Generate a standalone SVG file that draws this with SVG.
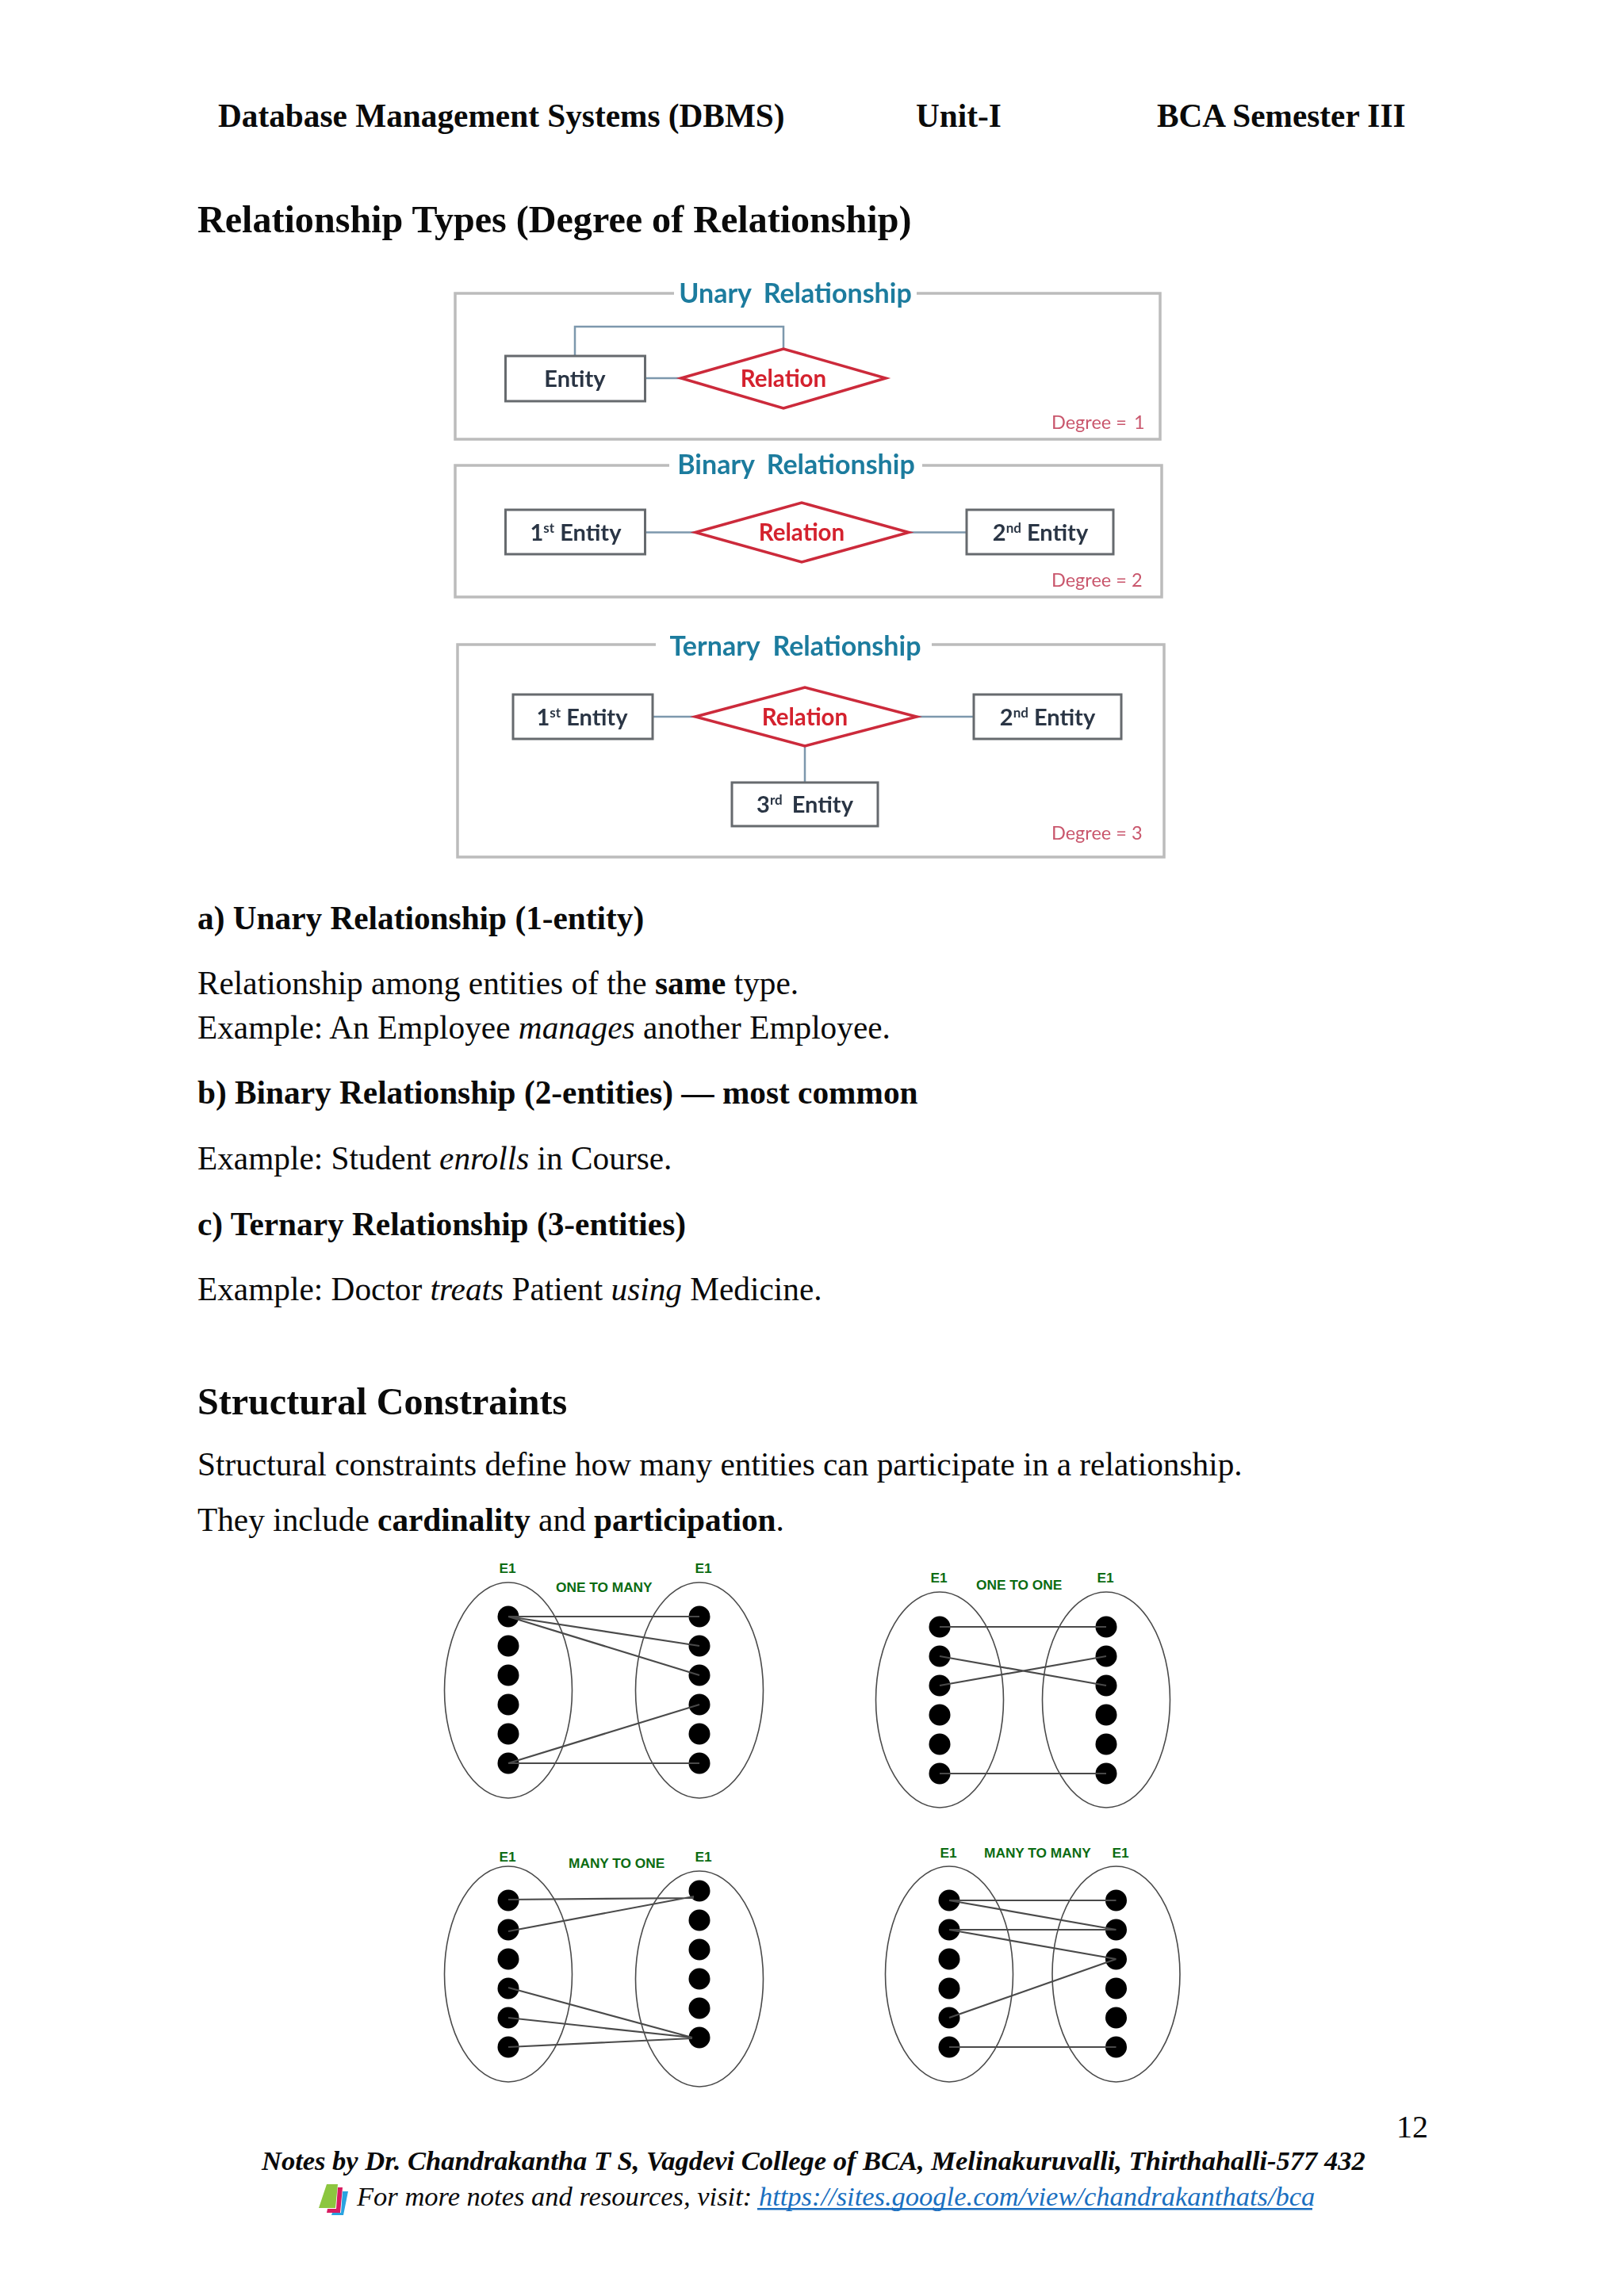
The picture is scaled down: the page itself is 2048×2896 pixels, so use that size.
<svg xmlns="http://www.w3.org/2000/svg" width="2048" height="2896" viewBox="0 0 2048 2896">
<defs>
<style>
.s{font-family:"Liberation Serif","Times New Roman",serif;fill:#0a0a0a}
.b{font-weight:700}
.body{font-size:41.3px}
.h1{font-size:48.1px;font-weight:700}
.hd{font-size:41.3px;font-weight:700}
.it{font-style:italic}
.ft{font-size:34.5px;font-style:italic}
.frame{fill:none;stroke:#bcbcbc;stroke-width:3.5}
.ent{fill:#fff;stroke:#666a6e;stroke-width:3}
.dia{fill:#fff;stroke:#cc2b3b;stroke-width:3.5}
.con{fill:none;stroke:#7d98ad;stroke-width:2.5}
.er{font-family:Lato,"Liberation Sans",sans-serif;font-weight:700}
.title{font-size:34px;fill:#1d7b9e;text-anchor:middle}
.ename{font-size:29px;fill:#2b3644;text-anchor:middle}
.rel{font-size:29.5px;fill:#d4202e;text-anchor:middle}
.deg{font-size:23.5px;fill:#c9566c;font-weight:400}
.ell{fill:none;stroke:#4a4a4a;stroke-width:1.6}
.dot{fill:#000}
.ln{stroke:#4a4a4a;stroke-width:2.2;fill:none}
.g{font-family:"Liberation Sans",Arial,sans-serif;font-weight:700;fill:#0b6b12;font-size:17.3px}
.m{text-anchor:middle}
</style>
<filter id="soft" x="-2%" y="-2%" width="104%" height="104%"><feGaussianBlur stdDeviation="0.6"/></filter>
</defs>
<rect width="2048" height="2896" fill="#fff"/>

<g id="page-text">
<text class="s hd" x="275" y="160">Database Management Systems (DBMS)</text>
<text class="s hd" x="1155" y="160">Unit-I</text>
<text class="s hd" x="1459" y="160">BCA Semester III</text>
<text class="s h1" x="249" y="293">Relationship Types (Degree of Relationship)</text>
<text class="s hd" x="249" y="1172">a) Unary Relationship (1-entity)</text>
<text class="s body" x="249" y="1254">Relationship among entities of the <tspan class="b">same</tspan> type.</text>
<text class="s body" x="249" y="1310">Example: An Employee <tspan class="it">manages</tspan> another Employee.</text>
<text class="s hd" x="249" y="1392">b) Binary Relationship (2-entities) — most common</text>
<text class="s body" x="249" y="1475">Example: Student <tspan class="it">enrolls</tspan> in Course.</text>
<text class="s hd" x="249" y="1558">c) Ternary Relationship (3-entities)</text>
<text class="s body" x="249" y="1640">Example: Doctor <tspan class="it">treats</tspan> Patient <tspan class="it">using</tspan> Medicine.</text>
<text class="s h1" x="249" y="1784">Structural Constraints</text>
<text class="s body" x="249" y="1861">Structural constraints define how many entities can participate in a relationship.</text>
<text class="s body" x="249" y="1931">They include <tspan class="b">cardinality</tspan> and <tspan class="b">participation</tspan>.</text>
<text class="s" x="1761" y="2696" font-size="40">12</text>
<text class="s ft b" x="330" y="2737">Notes by Dr. Chandrakantha T S, Vagdevi College of BCA, Melinakuruvalli, Thirthahalli-577 432</text>
<text class="s ft" x="450" y="2782">For more notes and resources, visit: <tspan fill="#1a6fc0">https://sites.google.com/view/chandrakanthats/bca</tspan></text>
<rect x="955" y="2785" width="700" height="2.5" fill="#1a6fc0"/>
</g>
<g id="book-icon">
<path d="M412 2755h14l-3 30h-21z" fill="#8cc63f"/>
<path d="M426 2759h6l-3 32h-17l1-5h11z" fill="#d81b60"/>
<path d="M432 2764h7l-6 30h-15l1-3h11z" fill="#29a3e0"/>
</g>

<g id="er-figures" filter="url(#soft)">
<g id="connectors-er">
<path class="con" d="M725 449V412H988V440"/>
<path class="con" d="M813 477H859"/>
<path class="con" d="M813 671.5H877M1146 671.5H1219"/>
<path class="con" d="M822 904H877M1156 904H1228M1015 941V987"/>
</g>
<g id="unary">
<path class="frame" d="M850 370H574V554H1463V370H1156"/>
<text class="er title" x="1003" y="382">Unary<tspan dx="15">Relationship</tspan></text>
<g id="unary-entity"><rect class="ent" x="637.5" y="449" width="176" height="57"/><text class="er ename" x="725" y="488">Entity</text></g>
<g id="unary-relation"><polygon class="dia" points="859,477 988,440 1117,477 988,515"/><text class="er rel" x="988" y="488">Relation</text></g>
<text class="er deg" x="1326" y="541">Degree =<tspan dx="9">1</tspan></text>
</g>
<g id="binary">
<path class="frame" d="M844 587H574V753H1465V587H1163"/>
<text class="er title" x="1004" y="598">Binary<tspan dx="15">Relationship</tspan></text>
<g id="binary-e1"><rect class="ent" x="637.5" y="643" width="176" height="56"/><text class="er ename" x="726" y="682">1<tspan font-size="17" dy="-10">st</tspan><tspan dy="10"> Entity</tspan></text></g>
<g id="binary-relation"><polygon class="dia" points="877,671.5 1011,634 1146,671.5 1011,709"/><text class="er rel" x="1011" y="682">Relation</text></g>
<g id="binary-e2"><rect class="ent" x="1219" y="643" width="185" height="56"/><text class="er ename" x="1312" y="682">2<tspan font-size="17" dy="-10">nd</tspan><tspan dy="10"> Entity</tspan></text></g>
<text class="er deg" x="1326" y="740">Degree = 2</text>
</g>
<g id="ternary">
<path class="frame" d="M827 813H577V1081H1468V813H1175"/>
<text class="er title" x="1003" y="827">Ternary<tspan dx="16">Relationship</tspan></text>
<g id="ternary-e1"><rect class="ent" x="647" y="876" width="176" height="56"/><text class="er ename" x="734" y="915">1<tspan font-size="17" dy="-10">st</tspan><tspan dy="10"> Entity</tspan></text></g>
<g id="ternary-relation"><polygon class="dia" points="877,904 1015,867 1156,904 1015,941"/><text class="er rel" x="1015" y="915">Relation</text></g>
<g id="ternary-e2"><rect class="ent" x="1228" y="876" width="186" height="56"/><text class="er ename" x="1321" y="915">2<tspan font-size="17" dy="-10">nd</tspan><tspan dy="10"> Entity</tspan></text></g>
<g id="ternary-e3"><rect class="ent" x="923" y="987" width="184" height="55"/><text class="er ename" x="1015" y="1025">3<tspan font-size="17" dy="-10">rd</tspan><tspan dx="5" dy="10"> Entity</tspan></text></g>
<text class="er deg" x="1326" y="1059">Degree = 3</text>
</g>
</g>

<g id="one-to-many">
<ellipse class="ell" cx="641" cy="2132" rx="80.5" ry="136"/><ellipse class="ell" cx="882" cy="2132" rx="80.5" ry="136"/>
<g class="dot"><circle cx="641" cy="2039" r="13.5"/><circle cx="641" cy="2076" r="13.5"/><circle cx="641" cy="2113" r="13.5"/><circle cx="641" cy="2150" r="13.5"/><circle cx="641" cy="2187" r="13.5"/><circle cx="641" cy="2224" r="13.5"/>
<circle cx="882" cy="2039" r="13.5"/><circle cx="882" cy="2076" r="13.5"/><circle cx="882" cy="2113" r="13.5"/><circle cx="882" cy="2150" r="13.5"/><circle cx="882" cy="2187" r="13.5"/><circle cx="882" cy="2224" r="13.5"/></g>
<text class="g m" x="640" y="1984">E1</text><text class="g m" x="887" y="1984">E1</text><text class="g" x="701" y="2008">ONE TO MANY</text>
</g>
<g id="one-to-one">
<ellipse class="ell" cx="1185" cy="2144" rx="80.5" ry="136"/><ellipse class="ell" cx="1395" cy="2144" rx="80.5" ry="136"/>
<g class="dot"><circle cx="1185" cy="2052" r="13.5"/><circle cx="1185" cy="2089" r="13.5"/><circle cx="1185" cy="2126" r="13.5"/><circle cx="1185" cy="2163" r="13.5"/><circle cx="1185" cy="2200" r="13.5"/><circle cx="1185" cy="2237" r="13.5"/>
<circle cx="1395" cy="2052" r="13.5"/><circle cx="1395" cy="2089" r="13.5"/><circle cx="1395" cy="2126" r="13.5"/><circle cx="1395" cy="2163" r="13.5"/><circle cx="1395" cy="2200" r="13.5"/><circle cx="1395" cy="2237" r="13.5"/></g>
<text class="g m" x="1184" y="1996">E1</text><text class="g m" x="1394" y="1996">E1</text><text class="g" x="1231" y="2005">ONE TO ONE</text>
</g>
<g id="many-to-one">
<ellipse class="ell" cx="641" cy="2490" rx="80.5" ry="136"/><ellipse class="ell" cx="882" cy="2496" rx="80.5" ry="136"/>
<g class="dot"><circle cx="641" cy="2397" r="13.5"/><circle cx="641" cy="2434" r="13.5"/><circle cx="641" cy="2471" r="13.5"/><circle cx="641" cy="2508" r="13.5"/><circle cx="641" cy="2545" r="13.5"/><circle cx="641" cy="2582" r="13.5"/>
<circle cx="882" cy="2385" r="13.5"/><circle cx="882" cy="2422" r="13.5"/><circle cx="882" cy="2459" r="13.5"/><circle cx="882" cy="2496" r="13.5"/><circle cx="882" cy="2533" r="13.5"/><circle cx="882" cy="2570" r="13.5"/></g>
<text class="g m" x="640" y="2348">E1</text><text class="g m" x="887" y="2348">E1</text><text class="g" x="717" y="2356">MANY TO ONE</text>
</g>
<g id="many-to-many">
<ellipse class="ell" cx="1197" cy="2490" rx="80.5" ry="136"/><ellipse class="ell" cx="1407.5" cy="2490" rx="80.5" ry="136"/>
<g class="dot"><circle cx="1197" cy="2397" r="13.5"/><circle cx="1197" cy="2434" r="13.5"/><circle cx="1197" cy="2471" r="13.5"/><circle cx="1197" cy="2508" r="13.5"/><circle cx="1197" cy="2545" r="13.5"/><circle cx="1197" cy="2582" r="13.5"/>
<circle cx="1407.5" cy="2397" r="13.5"/><circle cx="1407.5" cy="2434" r="13.5"/><circle cx="1407.5" cy="2471" r="13.5"/><circle cx="1407.5" cy="2508" r="13.5"/><circle cx="1407.5" cy="2545" r="13.5"/><circle cx="1407.5" cy="2582" r="13.5"/></g>
<text class="g m" x="1196" y="2343">E1</text><text class="g m" x="1413" y="2343">E1</text><text class="g" x="1241" y="2343">MANY TO MANY</text>
</g>
<g id="connectors-cardinality">
<path class="ln" d="M641 2039H882M641 2039L882 2076M641 2039L882 2113M641 2224L882 2150M641 2224H882"/>
<path class="ln" d="M1185 2052H1395M1185 2089L1395 2126M1185 2126L1395 2089M1185 2237H1395"/>
<path class="ln" d="M641 2396L875 2394M641 2436L875 2392M641 2507L873 2570M641 2545L873 2570M641 2582L873 2571"/>
<path class="ln" d="M1197 2397H1407.5M1197 2397L1407.5 2434M1197 2434H1407.5M1197 2434L1407.5 2471M1197 2545L1407.5 2471M1197 2582H1407.5"/>
</g>
</svg>
